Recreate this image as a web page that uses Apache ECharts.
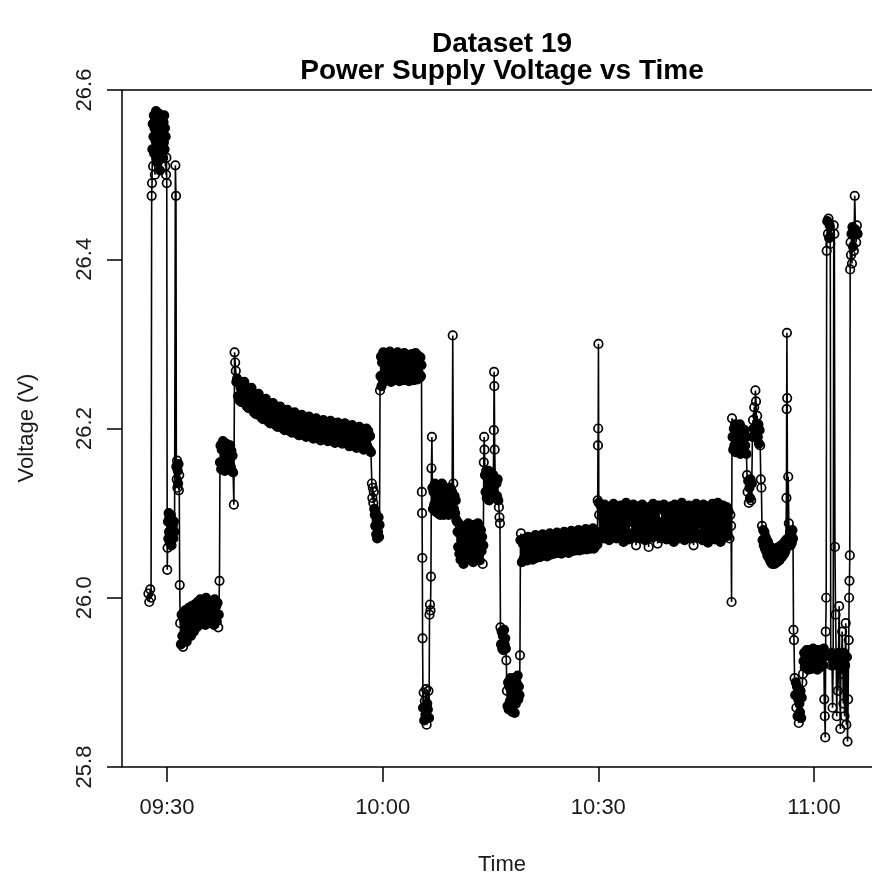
<!DOCTYPE html>
<html><head><meta charset="utf-8">
<script src="https://cdn.jsdelivr.net/npm/echarts@6/dist/echarts.min.js"></script>
<style>html,body{margin:0;padding:0;background:#fff}#c{width:872px;height:882px}</style>
</head><body><div id="c"></div>
<script>
const titleLines = ["Dataset 19", "Power Supply Voltage vs Time"];
const xAxisTitle = "Time";
const yAxisTitle = "Voltage (V)";
const xTickLabels = ["09:30", "10:00", "10:30", "11:00"];
const yTickValues = [25.8, 26.0, 26.2, 26.4, 26.6];

// readings: [clock time, volts]
const startLevel = [["09:27:25",26.005],["09:27:32",25.995],["09:27:40",26.010],["09:27:47",26.000]];
const firstPeak = [["09:27:52",26.475],["09:27:55",26.49],["09:27:58",26.53],["09:28:01",26.56],["09:28:04",26.51],["09:28:07",26.545],["09:28:10",26.57],["09:28:13",26.525],["09:28:16",26.555],["09:28:19",26.50],["09:28:22",26.565],["09:28:25",26.54],["09:28:28",26.575],["09:28:31",26.52],["09:28:34",26.55],["09:28:37",26.535],["09:28:40",26.568],["09:28:43",26.515],["09:28:46",26.56],["09:28:49",26.545],["09:28:52",26.572],["09:28:55",26.53],["09:28:58",26.555],["09:29:01",26.505],["09:29:04",26.565],["09:29:07",26.54],["09:29:10",26.57],["09:29:13",26.525],["09:29:16",26.558],["09:29:19",26.535],["09:29:22",26.568],["09:29:25",26.548],["09:29:28",26.52],["09:29:31",26.562],["09:29:34",26.538],["09:29:37",26.57],["09:29:40",26.53],["09:29:43",26.555],["09:29:46",26.51],["09:29:49",26.545],["09:29:52",26.50],["09:29:55",26.52],["09:29:58",26.49]];
const firstDrop = [["09:30:02",26.033],["09:30:05",26.059],["09:30:08",26.09],["09:30:11",26.07],["09:30:14",26.10],["09:30:17",26.078],["09:30:20",26.095],["09:30:23",26.065],["09:30:26",26.088],["09:30:29",26.072],["09:30:32",26.098],["09:30:35",26.08],["09:30:38",26.062],["09:30:41",26.092],["09:30:44",26.075],["09:30:48",26.085],["09:30:53",26.07],["09:30:58",26.09],["09:31:03",26.078],["09:31:10",26.511],["09:31:15",26.475],["09:31:18",26.155],["09:31:21",26.14],["09:31:24",26.162],["09:31:27",26.13],["09:31:30",26.15],["09:31:33",26.135],["09:31:36",26.158],["09:31:39",26.127],["09:31:42",26.145],["09:31:46",26.015]];
const lowShelf = [["09:31:50",25.97],["09:31:56",25.945],["09:32:02",25.98],["09:32:08",25.955],["09:32:14",25.942],["09:32:20",25.975],["09:32:26",25.952],["09:32:32",25.985],["09:32:38",25.96],["09:32:44",25.948],["09:32:50",25.978],["09:32:56",25.955],["09:33:02",25.988],["09:33:08",25.962],["09:33:14",25.975],["09:33:20",25.955],["09:33:26",25.99],["09:33:32",25.965],["09:33:38",25.982],["09:33:44",25.96],["09:33:50",25.992],["09:33:56",25.968],["09:34:02",25.985],["09:34:08",25.965],["09:34:14",25.995],["09:34:20",25.972],["09:34:26",25.988],["09:34:32",25.968],["09:34:38",25.998],["09:34:44",25.975],["09:34:50",25.99],["09:34:56",25.97],["09:35:02",25.995],["09:35:08",25.978],["09:35:14",25.988],["09:35:20",25.968],["09:35:26",26.0],["09:35:32",25.975],["09:35:38",25.99],["09:35:44",25.972],["09:35:50",25.996],["09:35:56",25.978],["09:36:02",25.988],["09:36:08",25.97],["09:36:14",25.995],["09:36:20",25.975],["09:36:26",25.99],["09:36:32",25.968],["09:36:38",25.998],["09:36:44",25.976],["09:36:50",25.99],["09:36:56",25.972],["09:37:02",25.994],["09:37:08",25.965],["09:37:12",25.98]];
const midShelf = [["09:37:18",26.02],["09:37:22",26.16],["09:37:27",26.18],["09:37:32",26.152],["09:37:37",26.175],["09:37:42",26.158],["09:37:47",26.185],["09:37:52",26.162],["09:37:57",26.178],["09:38:02",26.15],["09:38:07",26.172],["09:38:12",26.155],["09:38:17",26.182],["09:38:22",26.16],["09:38:27",26.176],["09:38:32",26.152],["09:38:37",26.17],["09:38:42",26.158],["09:38:47",26.18],["09:38:52",26.155],["09:38:57",26.174],["09:39:02",26.15],["09:39:07",26.168],["09:39:12",26.148],["09:39:18",26.11],["09:39:24",26.29],["09:39:29",26.278],["09:39:34",26.268],["09:39:39",26.255]];
const slowDecay = [["09:39:45",26.259],["09:39:52",26.238],
["09:40:00",26.254],["09:40:07",26.233],["09:40:15",26.248],["09:40:22",26.231],["09:40:30",26.252],["09:40:37",26.239],["09:40:45",26.255],["09:40:52",26.235],
["09:41:00",26.247],["09:41:07",26.226],["09:41:15",26.241],["09:41:22",26.224],["09:41:30",26.245],["09:41:37",26.232],["09:41:45",26.248],["09:41:52",26.228],
["09:42:00",26.240],["09:42:07",26.219],["09:42:15",26.234],["09:42:22",26.217],["09:42:30",26.238],["09:42:37",26.225],["09:42:45",26.241],["09:42:52",26.221],
["09:43:00",26.234],["09:43:07",26.213],["09:43:15",26.228],["09:43:22",26.211],["09:43:30",26.232],["09:43:37",26.219],["09:43:45",26.235],["09:43:52",26.215],
["09:44:00",26.229],["09:44:07",26.208],["09:44:15",26.223],["09:44:22",26.206],["09:44:30",26.227],["09:44:37",26.214],["09:44:45",26.230],["09:44:52",26.210],
["09:45:00",26.225],["09:45:07",26.204],["09:45:15",26.219],["09:45:22",26.202],["09:45:30",26.223],["09:45:37",26.210],["09:45:45",26.226],["09:45:52",26.206],
["09:46:00",26.221],["09:46:07",26.200],["09:46:15",26.215],["09:46:22",26.198],["09:46:30",26.219],["09:46:37",26.206],["09:46:45",26.222],["09:46:52",26.202],
["09:47:00",26.218],["09:47:07",26.197],["09:47:15",26.212],["09:47:22",26.195],["09:47:30",26.216],["09:47:37",26.203],["09:47:45",26.219],["09:47:52",26.199],
["09:48:00",26.215],["09:48:07",26.194],["09:48:15",26.209],["09:48:22",26.192],["09:48:30",26.213],["09:48:37",26.200],["09:48:45",26.216],["09:48:52",26.196],
["09:49:00",26.213],["09:49:07",26.192],["09:49:15",26.207],["09:49:22",26.190],["09:49:30",26.211],["09:49:37",26.198],["09:49:45",26.214],["09:49:52",26.194],
["09:50:00",26.211],["09:50:07",26.190],["09:50:15",26.205],["09:50:22",26.188],["09:50:30",26.209],["09:50:37",26.196],["09:50:45",26.212],["09:50:52",26.192],
["09:51:00",26.209],["09:51:07",26.188],["09:51:15",26.203],["09:51:22",26.186],["09:51:30",26.207],["09:51:37",26.194],["09:51:45",26.210],["09:51:52",26.190],
["09:52:00",26.208],["09:52:07",26.187],["09:52:15",26.202],["09:52:22",26.185],["09:52:30",26.206],["09:52:37",26.193],["09:52:45",26.209],["09:52:52",26.189],
["09:53:00",26.206],["09:53:07",26.185],["09:53:15",26.200],["09:53:22",26.183],["09:53:30",26.204],["09:53:37",26.191],["09:53:45",26.207],["09:53:52",26.187],
["09:54:00",26.205],["09:54:07",26.184],["09:54:15",26.199],["09:54:22",26.182],["09:54:30",26.203],["09:54:37",26.190],["09:54:45",26.206],["09:54:52",26.186],
["09:55:00",26.203],["09:55:07",26.182],["09:55:15",26.197],["09:55:22",26.179],["09:55:30",26.201],["09:55:37",26.188],["09:55:45",26.204],["09:55:52",26.184],
["09:56:00",26.201],["09:56:07",26.180],["09:56:15",26.195],["09:56:22",26.177],["09:56:30",26.199],["09:56:37",26.186],["09:56:45",26.202],["09:56:52",26.181],
["09:57:00",26.199],["09:57:07",26.177],["09:57:15",26.193],["09:57:22",26.175],["09:57:30",26.197],["09:57:37",26.184],["09:57:45",26.200],["09:57:52",26.179],
["09:58:00",26.197],["09:58:07",26.175],["09:58:15",26.191],["09:58:22",26.172]];
const dropBefore10 = [["09:58:30",26.135],["09:58:34",26.118],["09:58:38",26.13],["09:58:42",26.112],["09:58:46",26.125],["09:58:50",26.105],["09:58:54",26.098],["09:58:58",26.085],["09:59:02",26.10],["09:59:06",26.075],["09:59:10",26.092],["09:59:14",26.07],["09:59:18",26.088],["09:59:22",26.078],["09:59:26",26.095],["09:59:30",26.072],["09:59:34",26.086]];
const highShelf = [["09:59:38",26.245],["09:59:42",26.262],["09:59:46",26.285],["09:59:50",26.25],["09:59:55",26.278],["10:00:00",26.258],["10:00:05",26.29],["10:00:10",26.265],["10:00:15",26.282],["10:00:20",26.256],["10:00:25",26.288],["10:00:30",26.27],["10:00:35",26.26],["10:00:40",26.285],["10:00:45",26.258],["10:00:50",26.279],["10:00:55",26.262],["10:01:00",26.291],["10:01:05",26.266],["10:01:10",26.255],["10:01:15",26.284],["10:01:20",26.26],["10:01:25",26.277],["10:01:30",26.257],["10:01:35",26.288],["10:01:40",26.268],["10:01:45",26.282],["10:01:50",26.258],["10:01:55",26.275],["10:02:00",26.262],["10:02:05",26.29],["10:02:10",26.264],["10:02:15",26.28],["10:02:20",26.256],["10:02:25",26.286],["10:02:30",26.27],["10:02:35",26.258],["10:02:40",26.283],["10:02:45",26.26],["10:02:50",26.278],["10:02:55",26.257],["10:03:00",26.289],["10:03:05",26.265],["10:03:10",26.281],["10:03:15",26.259],["10:03:20",26.276],["10:03:25",26.262],["10:03:30",26.287],["10:03:35",26.267],["10:03:40",26.256],["10:03:45",26.284],["10:03:50",26.26],["10:03:55",26.279],["10:04:00",26.258],["10:04:05",26.288],["10:04:10",26.268],["10:04:15",26.282],["10:04:20",26.257],["10:04:25",26.276],["10:04:30",26.261],["10:04:35",26.289],["10:04:40",26.265],["10:04:45",26.28],["10:04:50",26.258],["10:04:55",26.286],["10:05:00",26.266],["10:05:05",26.278],["10:05:10",26.26],["10:05:15",26.284],["10:05:20",26.262],["10:05:24",26.275]];
const dip1005 = [["10:05:27",26.125],["10:05:29",26.10],["10:05:31",26.047],["10:05:33",25.952],["10:05:37",25.87],["10:05:42",25.888],["10:05:47",25.855],["10:05:52",25.878],["10:05:57",25.862],["10:06:02",25.892],["10:06:07",25.85],["10:06:12",25.875],["10:06:17",25.868],["10:06:22",25.89],["10:06:27",25.858],["10:06:31",25.98],["10:06:35",25.992],["10:06:39",25.985],["10:06:43",26.025],["10:06:47",26.153],["10:06:51",26.19]];
const shelf1007 = [["10:06:55",26.13],["10:07:00",26.105],["10:07:05",26.125],["10:07:10",26.11],["10:07:15",26.135],["10:07:20",26.102],["10:07:25",26.12],["10:07:30",26.108],["10:07:35",26.132],["10:07:40",26.10],["10:07:45",26.118],["10:07:50",26.105],["10:07:55",26.128],["10:08:00",26.098],["10:08:05",26.122],["10:08:10",26.11],["10:08:15",26.135],["10:08:20",26.104],["10:08:25",26.12],["10:08:30",26.098],["10:08:35",26.126],["10:08:40",26.108],["10:08:45",26.13],["10:08:50",26.10],["10:08:55",26.118],["10:09:00",26.106],["10:09:05",26.128],["10:09:10",26.098],["10:09:15",26.12],["10:09:20",26.105],["10:09:25",26.13],["10:09:30",26.10],["10:09:35",26.115],["10:09:40",26.125],["10:09:45",26.31],["10:09:50",26.135],["10:09:55",26.105],["10:10:00",26.12],["10:10:05",26.10],["10:10:10",26.115],["10:10:15",26.092],["10:10:20",26.09]];
const shelf1011 = [["10:10:25",26.078],["10:10:30",26.06],["10:10:35",26.088],["10:10:40",26.052],["10:10:45",26.075],["10:10:50",26.045],["10:10:55",26.068],["10:11:00",26.082],["10:11:05",26.05],["10:11:10",26.072],["10:11:15",26.04],["10:11:20",26.065],["10:11:25",26.085],["10:11:30",26.055],["10:11:35",26.07],["10:11:40",26.048],["10:11:45",26.078],["10:11:50",26.058],["10:11:55",26.088],["10:12:00",26.05],["10:12:05",26.072],["10:12:10",26.045],["10:12:15",26.066],["10:12:20",26.082],["10:12:25",26.054],["10:12:30",26.075],["10:12:35",26.042],["10:12:40",26.068],["10:12:45",26.086],["10:12:50",26.052],["10:12:55",26.074],["10:13:00",26.048],["10:13:05",26.08],["10:13:10",26.058],["10:13:15",26.088],["10:13:20",26.05],["10:13:25",26.07],["10:13:30",26.044],["10:13:35",26.066],["10:13:40",26.08],["10:13:45",26.055],["10:13:50",26.072],["10:13:55",26.04],["10:14:00",26.062]];
const shelf1014 = [["10:14:04",26.16],["10:14:07",26.19],["10:14:10",26.175],["10:14:14",26.145],["10:14:19",26.125],["10:14:24",26.15],["10:14:29",26.118],["10:14:34",26.142],["10:14:39",26.128],["10:14:44",26.15],["10:14:49",26.115],["10:14:54",26.138],["10:14:59",26.122],["10:15:04",26.148],["10:15:09",26.12],["10:15:14",26.14],["10:15:19",26.125],["10:15:24",26.145],["10:15:28",26.198],["10:15:30",26.267],["10:15:32",26.25],["10:15:35",26.175],["10:15:40",26.14],["10:15:45",26.118],["10:15:50",26.135],["10:15:55",26.12],["10:16:00",26.14],["10:16:05",26.115],["10:16:10",26.107],["10:16:15",26.095],["10:16:19",26.088]];
const lows1016 = [["10:16:23",25.965],["10:16:28",25.945],["10:16:33",25.96],["10:16:38",25.94],["10:16:43",25.955],["10:16:48",25.938],["10:16:53",25.962],["10:16:58",25.945],["10:17:03",25.952],["10:17:08",25.94],["10:17:12",25.926],["10:17:17",25.89],["10:17:22",25.872],["10:17:27",25.90],["10:17:32",25.868],["10:17:37",25.895],["10:17:42",25.878],["10:17:47",25.905],["10:17:52",25.872],["10:17:57",25.89],["10:18:02",25.865],["10:18:07",25.898],["10:18:12",25.878],["10:18:17",25.905],["10:18:22",25.864],["10:18:27",25.892],["10:18:32",25.875],["10:18:37",25.90],["10:18:42",25.882],["10:18:47",25.908],["10:18:52",25.88],["10:18:57",25.895],["10:19:02",25.885],["10:19:06",25.932]];
const shelf1020 = [["10:19:10",26.068],["10:19:14",26.076],["10:19:22",26.042],["10:19:30",26.064],["10:19:37",26.046],["10:19:45",26.07],["10:19:52",26.05],
["10:20:00",26.066],["10:20:07",26.044],["10:20:15",26.072],["10:20:22",26.048],["10:20:30",26.062],["10:20:37",26.052],["10:20:45",26.07],["10:20:52",26.045],
["10:21:00",26.068],["10:21:07",26.05],["10:21:15",26.074],["10:21:22",26.047],["10:21:30",26.065],["10:21:37",26.053],["10:21:45",26.072],["10:21:52",26.048],
["10:22:00",26.068],["10:22:07",26.054],["10:22:15",26.075],["10:22:22",26.05],["10:22:30",26.066],["10:22:37",26.055],["10:22:45",26.073],["10:22:52",26.049],
["10:23:00",26.07],["10:23:07",26.056],["10:23:15",26.076],["10:23:22",26.051],["10:23:30",26.068],["10:23:37",26.057],["10:23:45",26.074],["10:23:52",26.052],
["10:24:00",26.071],["10:24:07",26.058],["10:24:15",26.077],["10:24:22",26.053],["10:24:30",26.069],["10:24:37",26.056],["10:24:45",26.075],["10:24:52",26.052],
["10:25:00",26.072],["10:25:07",26.058],["10:25:15",26.078],["10:25:22",26.054],["10:25:30",26.07],["10:25:37",26.059],["10:25:45",26.076],["10:25:52",26.053],
["10:26:00",26.073],["10:26:07",26.06],["10:26:15",26.079],["10:26:22",26.055],["10:26:30",26.071],["10:26:37",26.058],["10:26:45",26.077],["10:26:52",26.056],
["10:27:00",26.074],["10:27:07",26.061],["10:27:15",26.08],["10:27:22",26.056],["10:27:30",26.072],["10:27:37",26.059],["10:27:45",26.078],["10:27:52",26.057],
["10:28:00",26.075],["10:28:07",26.062],["10:28:15",26.081],["10:28:22",26.057],["10:28:30",26.073],["10:28:37",26.06],["10:28:45",26.079],["10:28:52",26.058],
["10:29:00",26.076],["10:29:07",26.062],["10:29:15",26.082],["10:29:22",26.058],["10:29:30",26.074],["10:29:37",26.061],["10:29:45",26.078],["10:29:52",26.063]];
const shelf1030 = [["10:29:55",26.115],["10:29:57",26.18],["10:29:59",26.20],["10:30:01",26.30],["10:30:04",26.112],["10:30:07",26.098],["10:30:15",26.072],["10:30:22",26.108],["10:30:30",26.078],["10:30:37",26.102],["10:30:45",26.07],["10:30:52",26.11],
["10:31:00",26.082],["10:31:07",26.104],["10:31:15",26.073],["10:31:22",26.096],["10:31:30",26.068],["10:31:37",26.108],["10:31:45",26.085],["10:31:52",26.10],
["10:32:00",26.075],["10:32:07",26.111],["10:32:15",26.079],["10:32:22",26.094],["10:32:30",26.07],["10:32:37",26.106],["10:32:45",26.083],["10:32:52",26.099],
["10:33:00",26.072],["10:33:07",26.109],["10:33:15",26.077],["10:33:22",26.103],["10:33:30",26.066],["10:33:37",26.097],["10:33:45",26.08],["10:33:52",26.112],
["10:34:00",26.074],["10:34:07",26.10],["10:34:15",26.069],["10:34:22",26.107],["10:34:30",26.084],["10:34:37",26.095],["10:34:45",26.071],["10:34:52",26.11],
["10:35:00",26.078],["10:35:07",26.102],["10:35:15",26.062],["10:35:22",26.098],["10:35:30",26.076],["10:35:37",26.108],["10:35:45",26.07],["10:35:52",26.104],
["10:36:00",26.081],["10:36:07",26.11],["10:36:15",26.073],["10:36:22",26.096],["10:36:30",26.068],["10:36:37",26.105],["10:36:45",26.079],["10:36:52",26.10],
["10:37:00",26.06],["10:37:07",26.107],["10:37:15",26.075],["10:37:22",26.099],["10:37:30",26.071],["10:37:37",26.111],["10:37:45",26.082],["10:37:52",26.097],
["10:38:00",26.073],["10:38:07",26.104],["10:38:15",26.064],["10:38:22",26.109],["10:38:30",26.078],["10:38:37",26.095],["10:38:45",26.07],["10:38:52",26.106],
["10:39:00",26.08],["10:39:07",26.11],["10:39:15",26.074],["10:39:22",26.10],["10:39:30",26.069],["10:39:37",26.103],["10:39:45",26.083],["10:39:52",26.098],
["10:40:00",26.071],["10:40:07",26.108],["10:40:15",26.077],["10:40:22",26.096],["10:40:30",26.066],["10:40:37",26.11],["10:40:45",26.08],["10:40:52",26.101],
["10:41:00",26.074],["10:41:07",26.106],["10:41:15",26.07],["10:41:22",26.099],["10:41:30",26.079],["10:41:37",26.112],["10:41:45",26.072],["10:41:52",26.097],
["10:42:00",26.068],["10:42:07",26.104],["10:42:15",26.082],["10:42:22",26.10],["10:42:30",26.073],["10:42:37",26.109],["10:42:45",26.076],["10:42:52",26.095],
["10:43:00",26.07],["10:43:07",26.107],["10:43:15",26.062],["10:43:22",26.102],["10:43:30",26.078],["10:43:37",26.111],["10:43:45",26.071],["10:43:52",26.098],
["10:44:00",26.082],["10:44:07",26.105],["10:44:15",26.072],["10:44:22",26.097],["10:44:30",26.068],["10:44:37",26.11],["10:44:45",26.079],["10:44:52",26.10],
["10:45:00",26.074],["10:45:07",26.108],["10:45:15",26.065],["10:45:22",26.103],["10:45:30",26.08],["10:45:37",26.096],["10:45:45",26.07],["10:45:52",26.111],
["10:46:00",26.077],["10:46:07",26.10],["10:46:15",26.069],["10:46:22",26.106],["10:46:30",26.073],["10:46:37",26.112],["10:46:45",26.081],["10:46:52",26.098],
["10:47:00",26.066],["10:47:07",26.104],["10:47:15",26.076],["10:47:22",26.109],["10:47:30",26.071],["10:47:37",26.097],["10:47:45",26.08],["10:47:52",26.107],
["10:48:00",26.073],["10:48:07",26.102],["10:48:15",26.07],["10:48:22",26.098],["10:48:28",26.085]];
const shelf1049 = [["10:48:32",25.995],["10:48:36",26.212],["10:48:41",26.19],["10:48:46",26.175],["10:48:51",26.20],["10:48:56",26.18],["10:49:01",26.205],["10:49:06",26.172],["10:49:11",26.195],["10:49:16",26.182],["10:49:21",26.20],["10:49:26",26.175],["10:49:31",26.192],["10:49:36",26.178],["10:49:41",26.205],["10:49:46",26.17],["10:49:51",26.195],["10:49:56",26.18],["10:50:01",26.20],["10:50:06",26.176],["10:50:11",26.19],["10:50:16",26.172],["10:50:21",26.198],["10:50:26",26.18],["10:50:31",26.19],["10:50:36",26.17],["10:50:41",26.145],["10:50:46",26.125],["10:50:51",26.138],["10:50:56",26.112],["10:51:01",26.13],["10:51:06",26.118],["10:51:11",26.14],["10:51:16",26.115],["10:51:21",26.135],["10:51:26",26.19],["10:51:31",26.21],["10:51:36",26.20],["10:51:41",26.225],["10:51:46",26.19],["10:51:51",26.245],["10:51:56",26.232],["10:52:01",26.20],["10:52:06",26.215],["10:52:11",26.19],["10:52:16",26.205],["10:52:21",26.182],["10:52:26",26.198],["10:52:31",26.18],["10:52:36",26.14],["10:52:41",26.13]];
const bowl1053 = [["10:52:46",26.085],["10:52:51",26.068],["10:52:56",26.08],["10:53:01",26.062],["10:53:06",26.078],["10:53:11",26.058],["10:53:16",26.072],["10:53:21",26.055],["10:53:26",26.068],["10:53:31",26.05],["10:53:36",26.066],["10:53:41",26.048],["10:53:46",26.062],["10:53:51",26.045],["10:53:56",26.06],["10:54:01",26.042],["10:54:06",26.058],["10:54:11",26.04],["10:54:16",26.055],["10:54:21",26.044],["10:54:26",26.058],["10:54:31",26.04],["10:54:36",26.054],["10:54:41",26.043],["10:54:46",26.057],["10:54:51",26.042],["10:54:56",26.056],["10:55:01",26.045],["10:55:06",26.06],["10:55:11",26.044],["10:55:16",26.058],["10:55:21",26.047],["10:55:26",26.062],["10:55:31",26.048],["10:55:36",26.06],["10:55:41",26.05],["10:55:46",26.064],["10:55:51",26.052],["10:55:56",26.066],["10:56:01",26.055],["10:56:06",26.068],["10:56:10",26.118],["10:56:12",26.223],["10:56:14",26.313],["10:56:16",26.236],["10:56:20",26.07],["10:56:25",26.143],["10:56:30",26.088],["10:56:35",26.066],["10:56:40",26.078],["10:56:45",26.062],["10:56:50",26.075],["10:56:55",26.065],["10:57:00",26.08],["10:57:05",26.07]];
const lows1057 = [["10:57:09",25.962],["10:57:13",25.95],["10:57:18",25.905],["10:57:23",25.885],["10:57:28",25.90],["10:57:33",25.87],["10:57:38",25.895],["10:57:43",25.86],["10:57:48",25.88],["10:57:53",25.852],["10:57:58",25.875],["10:58:03",25.865],["10:58:08",25.89],["10:58:13",25.858],["10:58:18",25.882],["10:58:23",25.90],["10:58:28",25.91]];
const finalNoise = [["10:58:33",25.925],["10:58:38",25.935],["10:58:43",25.918],["10:58:48",25.93],["10:58:53",25.92],["10:58:58",25.938],["10:59:03",25.922],["10:59:08",25.932],["10:59:13",25.915],["10:59:18",25.928],["10:59:23",25.938],["10:59:28",25.92],["10:59:33",25.93],["10:59:38",25.916],["10:59:43",25.935],["10:59:48",25.925],["10:59:53",25.94],["10:59:58",25.92],["11:00:03",25.932],["11:00:08",25.918],["11:00:13",25.935],["11:00:18",25.922],["11:00:23",25.93],["11:00:28",25.915],["11:00:33",25.928],["11:00:38",25.938],["11:00:43",25.92],["11:00:48",25.932],["11:00:53",25.918],["11:00:58",25.935],["11:01:03",25.925],["11:01:08",25.938],["11:01:13",25.92],["11:01:18",25.93],["11:01:22",25.94],["11:01:26",25.88],["11:01:30",25.86],["11:01:34",25.835],["11:01:38",25.96],["11:01:42",26.00],["11:01:46",26.41],["11:01:51",26.445],["11:01:56",26.43],["11:02:01",26.448],["11:02:06",26.425],["11:02:11",26.44],["11:02:16",26.418],["11:02:20",25.93],["11:02:25",25.92],["11:02:30",25.935],["11:02:35",25.87],["11:02:40",25.92],["11:02:45",26.44],["11:02:50",26.43],["11:02:55",26.06],["11:03:00",25.98],["11:03:05",25.93],["11:03:10",25.86],["11:03:15",25.925],["11:03:20",25.89],["11:03:25",25.935],["11:03:30",25.99],["11:03:35",25.92],["11:03:40",25.845],["11:03:45",25.93],["11:03:50",25.91],["11:03:55",25.96],["11:04:00",25.925],["11:04:05",25.875],["11:04:10",25.935],["11:04:15",25.86],["11:04:20",25.92],["11:04:25",25.97],["11:04:30",25.85],["11:04:35",25.93],["11:04:40",25.83],["11:04:45",25.88],["11:04:50",25.95],["11:04:53",26.00],["11:04:56",26.02],["11:04:59",26.05],["11:05:02",26.388],["11:05:05",26.42],["11:05:09",26.405],["11:05:13",26.43],["11:05:17",26.395],["11:05:21",26.438],["11:05:25",26.415],["11:05:29",26.43],["11:05:33",26.41],["11:05:40",26.475],["11:05:46",26.435],["11:05:52",26.42],["11:05:58",26.44],["11:06:04",26.43]];

const segments = [startLevel, firstPeak, firstDrop, lowShelf, midShelf, slowDecay, dropBefore10, highShelf, dip1005, shelf1007, shelf1011, shelf1014, lows1016, shelf1020, shelf1030, shelf1049, bowl1053, lows1057, finalNoise];

function toMinutes(s) {
  const p = s.split(':').map(Number);
  return p[0] * 60 + p[1] + (p[2] || 0) / 60;
}
function fmtClock(v) {
  const h = Math.floor(v / 60), m = Math.round(v - h * 60);
  return String(h).padStart(2, '0') + ':' + String(m).padStart(2, '0');
}

const points = [];
segments.forEach(seg => seg.forEach(r => points.push([toMinutes(r[0]), r[1]])));

const FONT = '"Liberation Sans", Arial, sans-serif';
const chart = echarts.init(document.getElementById('c'), null, { renderer: 'canvas' });
const seriesBase = {
  type: 'line',
  symbol: 'circle',
  symbolSize: 8.5,
  showSymbol: true,
  showAllSymbol: true,
  clip: true,
  itemStyle: { color: 'rgba(0,0,0,0)', borderColor: '#000', borderWidth: 1.7 },
  lineStyle: { color: '#000', width: 1.6 },
  emphasis: { disabled: true },
  silent: true
};
chart.setOption({
  backgroundColor: '#ffffff',
  animation: false,
  grid: { left: 122, top: 90, width: 761, height: 677, outerBoundsMode: 'none', containLabel: false, show: true, borderColor: '#000', borderWidth: 1.5, backgroundColor: 'transparent' },
  xAxis: {
    type: 'value', min: 563.74, max: 669.6,
    axisLine: { show: false },
    splitLine: { show: false },
    axisTick: { show: true, length: 15, inside: false, customValues: xTickLabels.map(toMinutes), lineStyle: { color: '#000', width: 1.5 } },
    axisLabel: { customValues: xTickLabels.map(toMinutes), formatter: v => fmtClock(v), fontFamily: FONT, fontSize: 22, color: '#1a1a1a', margin: 30 }
  },
  yAxis: {
    type: 'value', min: yTickValues[0], max: yTickValues[yTickValues.length - 1], interval: 0.2,
    axisLine: { show: false },
    splitLine: { show: false },
    axisTick: { show: true, length: 15, lineStyle: { color: '#000', width: 1.5 } },
    axisLabel: { rotate: 90, formatter: v => v.toFixed(1), fontFamily: FONT, fontSize: 22, color: '#1a1a1a', margin: 26 }
  },
  graphic: [
    { type: 'text', x: 502, y: 44, style: { text: titleLines[0], font: 'bold 28px ' + FONT, fill: '#000', textAlign: 'center', textVerticalAlign: 'middle' } },
    { type: 'text', x: 502, y: 71, style: { text: titleLines[1], font: 'bold 28px ' + FONT, fill: '#000', textAlign: 'center', textVerticalAlign: 'middle' } },
    { type: 'text', x: 502, y: 865, style: { text: xAxisTitle, font: '22px ' + FONT, fill: '#1a1a1a', textAlign: 'center', textVerticalAlign: 'middle' } },
    { type: 'text', x: 27, y: 428, rotation: Math.PI / 2, style: { text: yAxisTitle, font: '22px ' + FONT, fill: '#1a1a1a', textAlign: 'center', textVerticalAlign: 'middle' } }
  ],
  series: [Object.assign({ data: points }, seriesBase)]
});

// Where many circles overlap (as in the original's dense blobs), the overlapping
// hollow rings merge into solid black: fill the symbols that sit in crowded areas.
const pix = points.map(p => chart.convertToPixel({ gridIndex: 0 }, p));
const styled = points.map((p, i) => {
  let n = 0;
  for (let j = 0; j < pix.length; j++) {
    if (j === i) continue;
    const dx = pix[j][0] - pix[i][0], dy = pix[j][1] - pix[i][1];
    if (dx * dx + dy * dy < 64) n++;
  }
  return n >= 3 ? { value: p, itemStyle: { color: '#000' } } : p;
});
chart.setOption({ series: [Object.assign({}, seriesBase, { data: styled })] });
</script></body></html>
